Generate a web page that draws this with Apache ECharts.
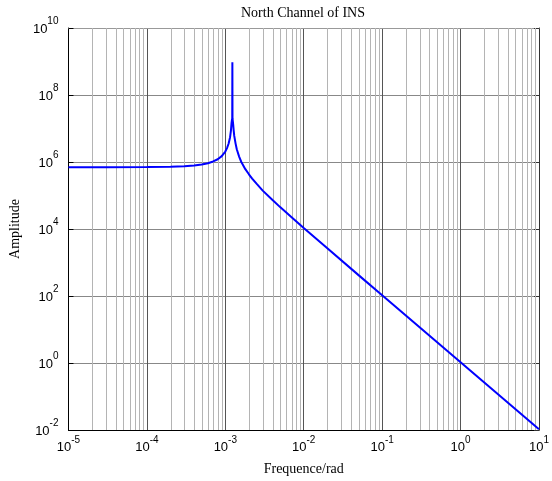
<!DOCTYPE html>
<html>
<head>
<meta charset="utf-8">
<script src="https://cdn.jsdelivr.net/npm/echarts@6/dist/echarts.min.js"></script>
<style>
  html, body { margin: 0; padding: 0; background: #fff; }
  #chart { width: 552px; height: 481px; }
</style>
</head>
<body>
<div id="chart"></div>
<script>
// Frequency response of the north channel (log-log)
const freq = [
  1e-5, 3e-5, 1e-4, 2e-4, 3e-4, 4e-4, 5e-4, 6e-4, 7e-4, 8e-4, 9e-4,
  1e-3, 1.05e-3, 1.1e-3, 1.15e-3, 1.18e-3, 1.2e-3, 1.21e-3, 1.225e-3,
  1.23e-3, 1.235e-3, 1.245e-3, 1.26e-3, 1.28e-3, 1.3e-3, 1.35e-3, 1.4e-3,
  1.5e-3, 1.6e-3, 1.8e-3, 2e-3, 2.2e-3, 2.5e-3, 3e-3, 4e-3, 5e-3, 7e-3,
  1e-2, 2e-2, 5e-2, 1e-1, 1, 10
];
const amplitude = [
  7.0e5, 7.0e5, 7.05e5, 7.2e5, 7.45e5, 7.8e5, 8.4e5, 9.2e5, 1.04e6, 1.21e6, 1.5e6,
  2.05e6, 2.6e6, 3.5e6, 5.5e6, 8.8e6, 1.45e7, 1.7e7, 2.0e7,
  9.5e8, 2.0e7, 1.7e7, 1.3e7, 8.5e6, 6.0e6, 3.6e6, 2.4e6,
  1.45e6, 1.0e6, 6.1e5, 4.3e5, 3.2e5, 2.25e5, 1.4e5, 7.3e4, 4.5e4, 2.25e4,
  1.07e4, 2.65e3, 4.2e2, 1.06e2, 1.06, 1.06e-2
];
const xTicks = [1e-5, 1e-4, 1e-3, 1e-2, 1e-1, 1, 10];
const yTicks = [1e-2, 1, 1e2, 1e4, 1e6, 1e8, 1e10];
const yMin = 1e-2, yMax = 1e10;

// minor vertical grid lines at 2..9 of every decade
const minorX = [];
for (let i = 0; i < xTicks.length - 1; i++) {
  for (let k = 2; k <= 9; k++) minorX.push([k * xTicks[i], 1]);
}

const serif = '"Liberation Serif", "Times New Roman", serif';
const sans = '"Liberation Sans", Arial, sans-serif';

function powLabel(v) {
  const e = Math.round(Math.log10(v));
  return '{b|10}{s|' + e + '}';
}
const richPow = {
  b: { fontSize: 13, fontFamily: sans, color: '#000', lineHeight: 15, verticalAlign: 'bottom' },
  s: { fontSize: 10, fontFamily: sans, color: '#000', lineHeight: 11, padding: [0, 0, 9, 0], verticalAlign: 'bottom' }
};

const pairs = freq.map((f, i) => [f, amplitude[i]]);

const chart = echarts.init(document.getElementById('chart'), null, { renderer: 'canvas' });
chart.setOption({
  animation: false,
  backgroundColor: '#fff',
  title: {
    text: 'North Channel of INS',
    left: 303, textAlign: 'center', top: 6,
    padding: 0,
    textStyle: { fontFamily: serif, fontSize: 14, fontWeight: 'normal', color: '#000' }
  },
  grid: { left: 63, right: 9, top: 28, bottom: 51, containLabel: false },
  xAxis: [{
    type: 'log', logBase: 10, min: 1e-5, max: 10,
    name: 'Frequence/rad', nameLocation: 'middle', nameGap: 32,
    nameTextStyle: { fontFamily: serif, fontSize: 14, color: '#000' },
    axisLine: { show: true, onZero: false, lineStyle: { color: '#000', width: 1 } },
    axisTick: { show: false, customValues: xTicks },
    axisLabel: { customValues: xTicks, formatter: powLabel, rich: richPow, margin: 9 },
    splitLine: { show: true, lineStyle: { color: '#555', width: 1 } }
  }, {
    type: 'log', logBase: 10, min: 1e-5, max: 10, position: 'top',
    axisLine: { show: true, onZero: false, lineStyle: { color: '#999', width: 1 } },
    axisTick: { show: false }, axisLabel: { show: false }, splitLine: { show: false }
  }],
  yAxis: [{
    type: 'log', logBase: 10, min: yMin, max: yMax,
    name: 'Amplitude', nameLocation: 'middle', nameGap: 42,
    nameTextStyle: { fontFamily: serif, fontSize: 14, color: '#000' },
    axisLine: { show: true, onZero: false, lineStyle: { color: '#000', width: 1 } },
    axisTick: { show: true, inside: true, length: 5, customValues: yTicks, lineStyle: { color: '#000' } },
    axisLabel: { customValues: yTicks, formatter: powLabel, rich: richPow, margin: 10 },
    splitLine: { show: true, lineStyle: { color: '#888', width: 1 } }
  }, {
    type: 'log', logBase: 10, min: yMin, max: yMax, position: 'right',
    axisLine: { show: true, onZero: false, lineStyle: { color: '#333', width: 1 } },
    axisTick: { show: true, inside: true, length: 5, customValues: yTicks, lineStyle: { color: '#333' } },
    axisLabel: { show: false }, splitLine: { show: false }
  }],
  series: [{
    // minor grid
    type: 'custom', z: 1, silent: true,
    data: minorX,
    clip: false,
    renderItem: function (params, api) {
      const x = api.value(0);
      const p1 = api.coord([x, yMin]);
      const p2 = api.coord([x, yMax]);
      const px = Math.round(p1[0]) + 0.5;
      return {
        type: 'line',
        shape: { x1: px, y1: p1[1], x2: px, y2: p2[1] },
        style: { stroke: '#b4b4b4', lineWidth: 1 }
      };
    }
  }, {
    type: 'line', data: pairs, z: 3,
    showSymbol: false, symbol: 'none',
    lineStyle: { color: '#0000ff', width: 2 },
    itemStyle: { color: '#0000ff' }
  }]
});
</script>
</body>
</html>
